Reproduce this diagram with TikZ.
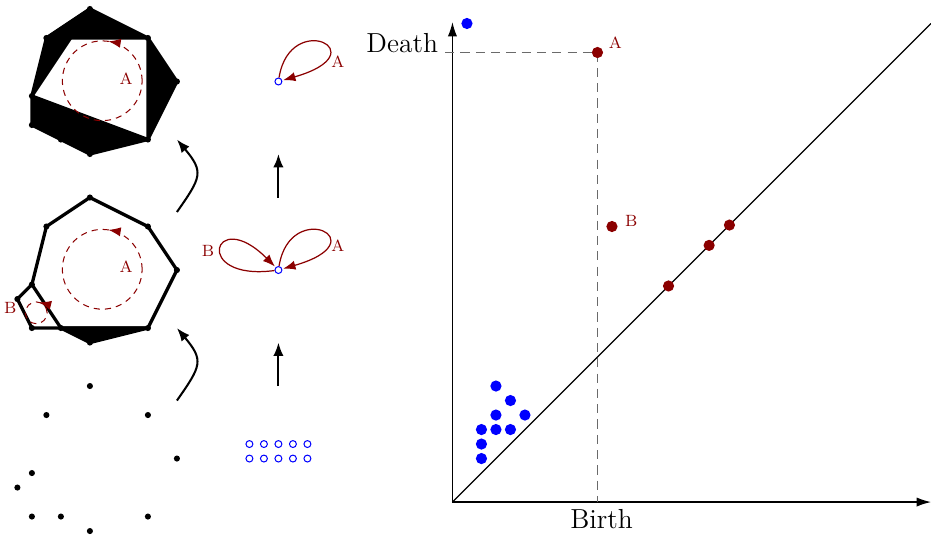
\documentclass[tikz,border=0pt]{standalone}
\usepackage{amsmath}
\usepackage{tikz}
\usetikzlibrary{arrows.meta,positioning,calc,decorations.markings}
\definecolor{hred}{HTML}{8B0000}
\definecolor{hblue}{HTML}{0000FF}
\definecolor{guidegray}{HTML}{6A6A6A}

\begin{document}
\begin{tikzpicture}[
  x=0.25cm, y=0.25cm,
  vtx/.style={circle, fill=black, inner sep=0pt, minimum size=3pt},
  edge/.style={line width=1.6pt, line join=round},
  face/.style={edge, fill=black},
  comp/.style={circle, draw=hblue, line width=0.5pt, inner sep=0pt, minimum size=3.4pt},
  loopline/.style={draw=hred, line width=0.6pt, -{Latex[length=6pt,width=4.5pt]}, shorten >=0.5pt},
  hole/.style={hred, line width=0.5pt, dash pattern=on 3pt off 2.5pt,
    postaction={decorate},
    decoration={markings, mark=at position #1 with {\arrow{Latex[length=6pt,width=4.5pt]}}}},
  lbl/.style={text=hred, font=\footnotesize},
  arrow/.style={-{Latex[length=6.5pt,width=5pt]}, line width=1pt},
  axis/.style={-{Latex[length=7pt,width=4.5pt]}, line width=0.65pt},
  guide/.style={guidegray, line width=0.85pt, dash pattern=on 4.5pt off 3pt},
  pt/.style={circle, fill=#1, inner sep=0pt, minimum size=5.5pt},
  axlbl/.style={font=\fontsize{13.5}{16}\selectfont}
]
  \useasboundingbox (-6.2,-0.28) rectangle (58,36.62);

  % Point cloud and middle complex
  \foreach \lv/\dy in {a/0, b/13} {
    \foreach \x/\y [count=\i] in {0/10,-3/8,4/8,6/5,-4/4,-5/3,-4/1,-2/1,4/1,0/0}
      \coordinate (\lv\i) at (\x,\y+\dy);
  }
  % Top complex
  \foreach \x/\y [count=\i] in {0/10,-3/8,4/8,6/5,-4/4,-4/2,-2/1,4/1,0/0}
    \coordinate (c\i) at (\x,\y+26);

  % Top complex (filled)
  \filldraw[face] (c1) -- (c2) -- (c5) -- cycle;
  \filldraw[face] (c1) -- (c2) -- (c3) -- cycle;
  \filldraw[face] (c3) -- (c4) -- (c8) -- cycle;
  \filldraw[face] (c5) -- (c6) -- (c7) -- cycle;
  \filldraw[face] (c5) -- (c7) -- (c8) -- cycle;
  \filldraw[face] (c7) -- (c9) -- (c8) -- cycle;

  % Middle complex
  \draw[edge] (b1) -- (b3) -- (b4) -- (b9) -- (b8) -- (b5) -- (b2) -- cycle;
  \draw[edge] (b5) -- (b6) -- (b7) -- (b8);
  \filldraw[face] (b8) -- (b10) -- (b9) -- cycle;

  % Vertices
  \foreach \i in {1,...,10} {
    \node[vtx] (va\i) at (a\i) {};
    \node[vtx] (vb\i) at (b\i) {};
  }
  \foreach \i in {1,...,9}
    \node[vtx] (vc\i) at (c\i) {};

  % Holes
  \draw[hole=0.225] (0.85,31.05) circle[radius=2.75];
  \draw[hole=0.225] (0.85,18.05) circle[radius=2.75];
  \draw[hole=0.21] (-3.7,15.05) circle[radius=0.75];
  \node[lbl] (hA1) at (2.5,31.2) {A};
  \node[lbl] (hA2) at (2.5,18.2) {A};
  \node[lbl] (hB2) at (-5.5,15.4) {B};

  % Filtration arrows
  \coordinate (s1) at (6,9);
  \coordinate (e1) at (6,14);
  \coordinate (s2) at (6,22);
  \coordinate (e2) at (6,27);
  \draw[arrow] (s1) to[out=55,in=-50,looseness=1.5] (e1);
  \draw[arrow] (s2) to[out=55,in=-50,looseness=1.5] (e2);

  % Components and loops
  \foreach \x in {11,...,15}
    \foreach \y in {5,6}
      \node[comp] (u\x\y) at (\x,\y) {};
  \node[comp] (v2) at (13,18) {};
  \node[comp] (v1) at (13,31) {};
  \draw[loopline] (v1) .. controls +(0.8,5) and +(7,2) .. (v1);
  \draw[loopline] (v2) .. controls +(0.8,5) and +(7,2) .. (v2);
  \draw[loopline] (v2) .. controls +(-6,-0.8) and +(-4.5,4.5) .. (v2);
  \node[lbl] (lA1) at (17.1,32.4) {A};
  \node[lbl] (lA2) at (17.1,19.7) {A};
  \node[lbl] (lB2) at (8.15,19.3) {B};

  \coordinate (m1) at (13,10);
  \coordinate (n1) at (13,13);
  \coordinate (m2) at (13,23);
  \coordinate (n2) at (13,26);
  \draw[arrow] (m1) -- (n1);
  \draw[arrow] (m2) -- (n2);

  % Persistence diagram
  \coordinate (O) at (25,2);
  \coordinate (xE) at (58,2);
  \coordinate (yE) at (25,35.1);
  \coordinate (dE) at (58,35);
  \coordinate (dA) at (35,33);
  \coordinate (bX) at (dA |- O);
  \draw[axis] (O) -- (xE);
  \draw[axis] (O) -- (yE);
  \draw[line width=0.65pt] (O) -- (dE);

  \node[axlbl, anchor=base east] (death) at (24.5,33) {Death};
  \node[axlbl, below=0pt of bX, xshift=2pt] (birth) {Birth};
  \draw[guide] (death.base east) -- (dA);
  \draw[guide] (dA) -- (bX);

  \node[pt=hred] (pA) at (dA) {};
  \node[pt=hred] (pB) at (36,21) {};
  \node[pt=hred] (pC) at (39.9,16.9) {};
  \node[pt=hred] (pD) at (42.7,19.7) {};
  \node[pt=hred] (pE) at (44.1,21.1) {};
  \node[lbl, above right=-3.5pt and 0pt of pA] {A};
  \node[lbl, right=0pt of pB, yshift=2.5pt] {B};

  \node[pt=hblue] (q0) at (26,35) {};
  \node[pt=hblue] (q1) at (28,10) {};
  \node[pt=hblue] (q2) at (29,9) {};
  \node[pt=hblue] (q3) at (28,8) {};
  \node[pt=hblue] (q4) at (30,8) {};
  \node[pt=hblue] (q5) at (27,7) {};
  \node[pt=hblue] (q6) at (28,7) {};
  \node[pt=hblue] (q7) at (29,7) {};
  \node[pt=hblue] (q8) at (27,6) {};
  \node[pt=hblue] (q9) at (27,5) {};
\end{tikzpicture}
\end{document}
